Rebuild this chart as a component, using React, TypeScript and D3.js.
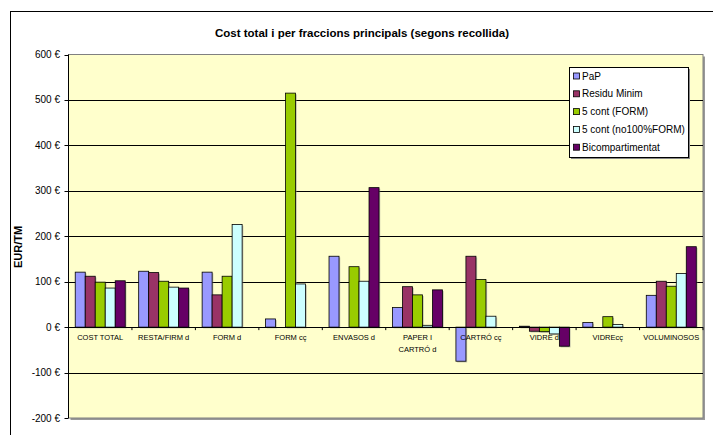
import React from "react";
import * as d3 from "d3";

const categories = [
  "COST TOTAL",
  "RESTA/FIRM d",
  "FORM d",
  "FORM cç",
  "ENVASOS d",
  "PAPER I CARTRÓ d",
  "CARTRÓ cç",
  "VIDRE d",
  "VIDREcç",
  "VOLUMINOSOS",
];
const categoryLines: Record<string, string[]> = {
  "PAPER I CARTRÓ d": ["PAPER I", "CARTRÓ d"],
};

const seriesNames = ["PaP", "Residu Minim", "5 cont (FORM)", "5 cont (no100%FORM)", "Bicompartimentat"];
const seriesColors = ["#9999FF", "#993366", "#99CC00", "#CCFFFF", "#660066"];

const pap = [121, 123, 121, 18, 156, 43, -75, 2, 10, 70];
const residu = [112, 120, 71, null, null, 89, 156, -9, null, 101];
const form5 = [99, 101, 112, 515, 133, 71, 105, -10, 23, 90];
const no100 = [86, 88, 226, 95, 101, 4, 24, -15, 6, 118];
const bicomp = [102, 86, null, null, 307, 82, null, -42, null, 177];
const seriesValues: (number | null)[][] = [pap, residu, form5, no100, bicomp];

const yTicks = [-200, -100, 0, 100, 200, 300, 400, 500, 600];
const title = "Cost total i per fraccions principals (segons recollida)";
const yTitle = "EUR/TM";

const FONT = "'Liberation Sans', Arial, sans-serif";

export default function App() {
  const W = 713, H = 435;
  const left = 68.5, right = 703, top = 54.5, bottom = 418;
  const x0 = d3.scaleBand<string>().domain(categories).range([left, right]).paddingInner(0).paddingOuter(0);
  const step = x0.bandwidth();
  const pad = (step - 50) / 2;
  const x1 = d3.scaleBand<string>().domain(seriesNames).range([pad, step - pad]).padding(0);
  const y = d3.scaleLinear().domain([-200, 600]).range([bottom, top]);

  return (
    <svg width={W} height={H} style={{ position: "absolute", left: 0, top: 0 }} fontFamily={FONT}>
      <rect x={0} y={0} width={W} height={H} fill="#fff" />
      {/* chart border */}
      <rect x={10.5} y={11.5} width={W + 10} height={H + 10} fill="#fff" stroke="#000" strokeWidth={1} />
      <text x={362} y={37} textAnchor="middle" fontSize={11.5} fontWeight="bold">{title}</text>

      {/* plot area with shadow */}
      <rect x={left + 2} y={top + 2} width={right - left} height={bottom - top} fill="#999" />
      <rect x={left} y={top} width={right - left} height={bottom - top} fill="#FFFFCC" stroke="#808080" strokeWidth={1} />

      {/* gridlines */}
      {yTicks.filter((t) => t !== 0 && t !== -200 && t !== 600).map((t) => (
        <line key={"g" + t} x1={left} x2={right} y1={Math.round(y(t)) + 0.5} y2={Math.round(y(t)) + 0.5} stroke="#000" strokeWidth={1} />
      ))}

      {/* y axis */}
      <line x1={left} x2={left} y1={top} y2={bottom} stroke="#000" />
      {yTicks.map((t) => (
        <g key={"t" + t}>
          <line x1={left - 4} x2={left} y1={Math.round(y(t)) + 0.5} y2={Math.round(y(t)) + 0.5} stroke="#000" />
          <text x={60} y={y(t) + 3.5} textAnchor="end" fontSize={10}>{`${t} €`}</text>
        </g>
      ))}
      <text transform={`translate(22,247) rotate(-90)`} textAnchor="middle" fontSize={11} fontWeight="bold">{yTitle}</text>

      {/* bars */}
      {categories.map((c, ci) => (
        <g key={c} transform={`translate(${x0(c)},0)`}>
          {seriesNames.map((s, si) => {
            const v = seriesValues[si][ci];
            if (v === null || v === undefined) return null;
            const bx = x1(s)!;
            const y0 = y(0), yv = y(v);
            const ry = Math.min(y0, yv), rh = Math.abs(y0 - yv);
            return (
              <g key={s}>
                <rect x={bx + 1.2} y={ry + 1.2} width={x1.bandwidth()} height={rh} fill="#8a8a8a" opacity={0.55} />
                <rect x={bx} y={ry} width={x1.bandwidth()} height={rh} fill={seriesColors[si]} stroke="#000" strokeWidth={0.8} />
              </g>
            );
          })}
        </g>
      ))}

      {/* x axis */}
      <line x1={left} x2={right} y1={Math.round(y(0)) + 0.5} y2={Math.round(y(0)) + 0.5} stroke="#000" />
      {categories.map((c) => (
        <line key={"xt" + c} x1={x0(c)!} x2={x0(c)!} y1={y(0)} y2={y(0) + 3} stroke="#000" />
      ))}
      <line x1={right} x2={right} y1={y(0)} y2={y(0) + 3} stroke="#000" />
      {categories.map((c) => {
        const lines = categoryLines[c] || [c];
        return (
          <text key={"xl" + c} x={x0(c)! + step / 2} y={y(0) + 13} textAnchor="middle" fontSize={7.5}>
            {lines.map((l, li) => (
              <tspan key={li} x={x0(c)! + step / 2} dy={li === 0 ? 0 : 11.5}>{l}</tspan>
            ))}
          </text>
        );
      })}

      {/* legend */}
      <rect x={571} y={69} width={119} height={90} fill="#888" />
      <rect x={569.5} y={67.5} width={119} height={90} fill="#fff" stroke="#000" strokeWidth={1} />
      {seriesNames.map((s, i) => {
        const ly = 76 + i * 17.8;
        return (
          <g key={"lg" + s}>
            <rect x={573.5} y={ly - 3} width={6} height={6} fill={seriesColors[i]} stroke="#000" strokeWidth={0.8} />
            <text x={582} y={ly + 3.5} fontSize={10}>{s}</text>
          </g>
        );
      })}
    </svg>
  );
}
